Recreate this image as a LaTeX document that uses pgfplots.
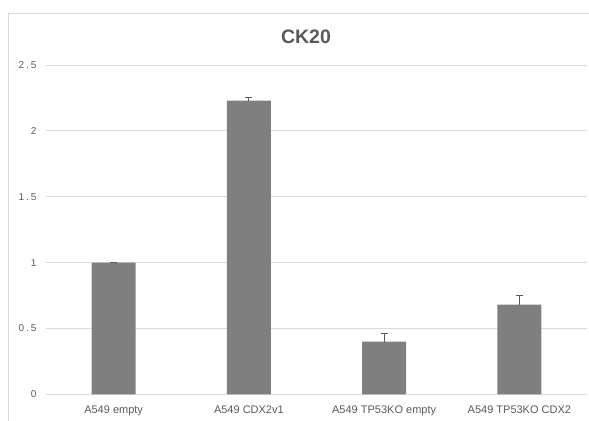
\documentclass[border=0pt]{standalone}
\usepackage{pgfplots}
\pgfplotsset{compat=1.18}
\usepackage{fontspec}
\setmainfont{Liberation Sans}
\newfontfamily\ylabfont[LetterSpace=20]{Liberation Sans}
\definecolor{bargray}{HTML}{7F7F7F}
\definecolor{gridgray}{HTML}{D9D9D9}
\definecolor{textgray}{HTML}{595959}
\begin{document}
\begin{tikzpicture}[x=1bp,y=1bp]
\useasboundingbox (0,0) rectangle (589,420);
\draw[gridgray, line width=0.8bp] (8,-5) -- (8,407) -- (600,407);
\node[font=\bfseries\fontsize{19.5bp}{22bp}\selectfont, text=textgray, anchor=base] at (306,377) {CK20};
\begin{axis}[
  at={(46bp,25.7bp)}, anchor=south west,
  scale only axis, width=541bp, height=329.3bp,
  xmin=-0.5, xmax=3.5, ymin=0, ymax=2.5,
  ytick={0,0.5,1,1.5,2,2.5},
  yticklabels={0,0.5,1,1.5,2,2.5},
  xtick={0,1,2,3},
  xticklabels={A549 empty, A549 CDX2v1, A549 TP53KO empty, A549 TP53KO CDX2},
  axis line style={draw=none},
  ymajorgrids, grid style={gridgray, line width=0.8bp},
  major tick length=0pt,
  xticklabel style={text=textgray, font=\fontsize{11bp}{13bp}\selectfont, yshift=-8bp},
  yticklabel style={text=textgray, font=\ylabfont\fontsize{10bp}{12bp}\selectfont, xshift=-6bp},
  /pgf/number format/assume math mode=true,
  clip=false,
]
\draw[gridgray, line width=0.8bp] (axis cs:-0.5,0) -- (axis cs:3.5,0);
\addplot[ybar, bar width=44bp, fill=bargray, draw=none,
  error bars/.cd, y dir=plus, y explicit,
  error bar style={textgray, line width=0.8bp},
  error mark options={textgray, line width=0.8bp, mark size=3.5bp, rotate=90}]
coordinates {
  (0,1.00) +- (0,0.003)
  (1,2.23) +- (0,0.026)
  (2,0.40) +- (0,0.062)
  (3,0.68) +- (0,0.068)
};
\end{axis}
\end{tikzpicture}
\end{document}
